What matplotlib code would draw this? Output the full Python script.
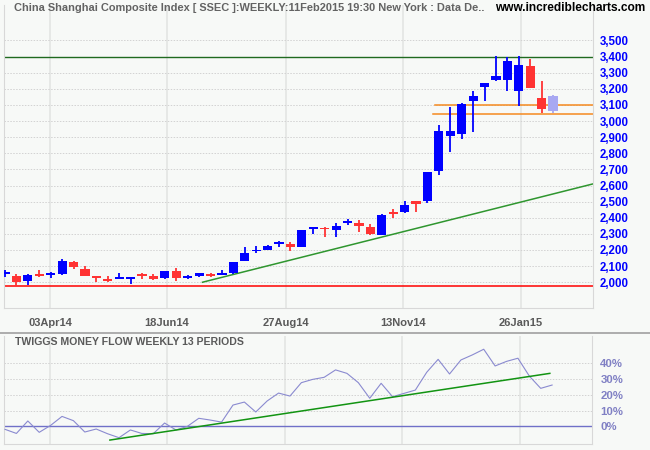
import numpy as np
import matplotlib
matplotlib.use("Agg")
import matplotlib.pyplot as plt

# weekly candles, SSEC, Mar 2014 - Feb 2015
opens = [2054, 2039, 2010, 2054, 2047, 2054, 2126, 2083, 2033, 2020,
         2023, 2023, 2041, 2039, 2029, 2070, 2027, 2039, 2052, 2045,
         2058, 2134, 2192, 2202, 2240, 2240, 2221, 2331, 2331, 2324,
         2370, 2368, 2341, 2295, 2428, 2436, 2504, 2504, 2693, 2909,
         2922, 3124, 3214, 3255, 3255, 3187, 3342, 3143, 3064]
highs = [2075, 2049, 2054, 2078, 2066, 2145, 2132, 2101, 2033, 2039,
         2056, 2035, 2056, 2052, 2070, 2087, 2043, 2060, 2058, 2076,
         2126, 2219, 2227, 2229, 2258, 2248, 2324, 2345, 2345, 2366,
         2391, 2386, 2362, 2426, 2453, 2504, 2504, 2684, 2976, 3085,
         3114, 3188, 3239, 3404, 3396, 3404, 3385, 3248, 3162]
lows = [2035, 1977, 1985, 2035, 2029, 2047, 2085, 2041, 2000, 2004,
        2020, 1991, 2023, 2012, 2023, 2010, 2021, 2035, 2031, 2045,
        2052, 2134, 2184, 2202, 2221, 2194, 2221, 2302, 2283, 2283,
        2356, 2314, 2295, 2295, 2401, 2430, 2436, 2494, 2666, 2811,
        2889, 2934, 3127, 3251, 3189, 3095, 3207, 3053, 3053]
closes = [2056, 2004, 2047, 2041, 2060, 2132, 2097, 2041, 2029, 2010,
          2025, 2035, 2039, 2023, 2070, 2029, 2039, 2056, 2041, 2058,
          2126, 2182, 2198, 2225, 2242, 2221, 2324, 2333, 2329, 2347,
          2374, 2347, 2300, 2419, 2424, 2479, 2488, 2682, 2939, 2939,
          3106, 3155, 3233, 3282, 3373, 3348, 3207, 3077, 3156]

# Twiggs money flow (%)
tmf = [-1.9, -4.5, 3.4, -3.8, 0.6, 6.3, 3.6, -3.6, -1.7, -4.7,
       -7.2, -2.3, -4.5, -4.7, 2.1, -2.3, 0.0, 5.1, 4.0, 2.7,
       13.5, 15.4, 9.1, 16.1, 21.1, 19.2, 27.7, 29.8, 31.1, 35.8,
       33.6, 27.7, 17.8, 27.3, 18.8, 20.9, 23.0, 34.3, 42.5, 33.2,
       42.1, 45.3, 48.9, 38.3, 41.2, 43.2, 31.9, 24.1, 26.2]

date_labels = ["03Apr14", "18Jun14", "27Aug14", "13Nov14", "26Jan15"]
date_pos = [3.94, 14.19, 24.6, 34.83, 45.15]

price_ticks = list(range(2000, 3501, 100))
tmf_ticks = [0, 10, 20, 30, 40]

# drawn lines
resistance = 3400
support = 1975
orange_levels = [3100, 3043]
orange_start = [37.7, 37.5]
price_trend_x = [17.3, 51.5]
price_trend_y = [2000, 2610]
tmf_trend_x = [9.2, 47.8]
tmf_trend_y = [-8.7, 33.6]

bg = "#f7f9f7"
n = len(opens)
x = np.arange(n)
xlim = (-0.09, 51.5)

fig = plt.figure(figsize=(6.5, 4.5), dpi=100, facecolor=bg)
ax = fig.add_axes([4/650, 142/450, 589/650, 303/450], facecolor=bg)
ax2 = fig.add_axes([4/650, 6/450, 588/650, 108/450], facecolor=bg)

# candles
for i in range(n):
    o, h, l, c = opens[i], highs[i], lows[i], closes[i]
    if i == n - 1:
        col = "#a8a8f2"
    elif c >= o:
        col = "#0000ff"
    else:
        col = "#ff3333"
    ax.vlines(i, l, h, color=col, lw=1.3, zorder=3)
    ax.bar(i, max(abs(c - o), 9), bottom=min(o, c), width=0.8,
           color=col, lw=0, zorder=4)

ax.axhline(resistance, color="#1f6a1f", lw=1.0, zorder=2)
ax.axhline(support, color="#ff0000", lw=1.1, zorder=2)
for lvl, xs in zip(orange_levels, orange_start):
    ax.plot([xs, xlim[1]], [lvl, lvl], color="#f58a1f", lw=1.1, zorder=2)
ax.plot(price_trend_x, price_trend_y, color="#2f962f", lw=1.1, zorder=2)

ax.set_xlim(*xlim)
ax.set_ylim(1840, 3720)
ax.set_yticks(price_ticks)
ax.set_yticklabels([f"{v:,}" for v in price_ticks])
ax.yaxis.tick_right()
ax.tick_params(axis="y", length=0, pad=5, labelcolor="#0000ff", labelsize=8.3)
ax.set_xticks(date_pos)
ax.set_xticklabels(date_labels)
ax.tick_params(axis="x", length=0, pad=7, labelcolor="#5a5a5a", labelsize=8)
for lab in ax.get_xticklabels() + ax.get_yticklabels():
    lab.set_fontfamily("Liberation Sans")
    lab.set_fontweight("bold")
ax.grid(axis="y", ls=(0, (1.5, 1.5)), color="#d2d2d2", lw=0.7)
ax.grid(axis="x", ls="-", color="#e3e5e3", lw=1.2)
ax.set_axisbelow(True)
ax.spines["top"].set_visible(False)
for s in ["left", "right", "bottom"]:
    ax.spines[s].set_color("#d8d8d8")
    ax.spines[s].set_linewidth(0.8)

# money flow panel
ax2.plot(x, tmf, color="#8a8ad0", lw=0.8, zorder=3)
ax2.axhline(0, color="#7070c8", lw=1.0, zorder=2)
ax2.plot(tmf_trend_x, tmf_trend_y, color="#129412", lw=1.1, zorder=4)
ax2.set_xlim(*xlim)
ax2.set_ylim(-11.2, 57.3)
ax2.set_yticks(tmf_ticks)
ax2.set_yticklabels([f"{v}%" for v in tmf_ticks])
ax2.yaxis.tick_right()
ax2.tick_params(axis="y", length=0, pad=6, labelcolor="#8080c4", labelsize=8.2)
ax2.set_xticks(date_pos)
ax2.set_xticklabels([])
ax2.tick_params(axis="x", length=0)
for lab in ax2.get_yticklabels():
    lab.set_fontfamily("Liberation Sans")
    lab.set_fontweight("bold")
ax2.grid(axis="y", ls=(0, (1.5, 1.5)), color="#d2d2d2", lw=0.7)
ax2.grid(axis="x", ls="-", color="#e3e5e3", lw=1.2)
ax2.set_axisbelow(True)
ax2.spines["top"].set_visible(False)
for s in ["left", "right", "bottom"]:
    ax2.spines[s].set_color("#d8d8d8")
    ax2.spines[s].set_linewidth(0.8)

# separator and texts
fig.add_artist(plt.Line2D([0, 1], [1 - 333/450, 1 - 333/450],
                          color="#a0a0a0", lw=1.2))
fig.text(14/650, 1 - 8/450,
         "China Shanghai Composite Index [ SSEC ]:WEEKLY:11Feb2015 19:30 New York : Data De..",
         fontsize=7.95, fontweight="bold", color="#636363", va="center",
         family="Liberation Sans")
fig.text(645/650, 1 - 8/450, "www.incrediblecharts.com", fontsize=8.6,
         fontweight="bold", color="black", va="center", ha="right",
         family="Liberation Sans")
fig.text(15/650, 1 - 342/450, "TWIGGS MONEY FLOW WEEKLY 13 PERIODS",
         fontsize=7.6, fontweight="bold", color="#5a5a5a", va="center",
         family="Liberation Sans")

fig.savefig("out.png", dpi=100, facecolor=bg)
